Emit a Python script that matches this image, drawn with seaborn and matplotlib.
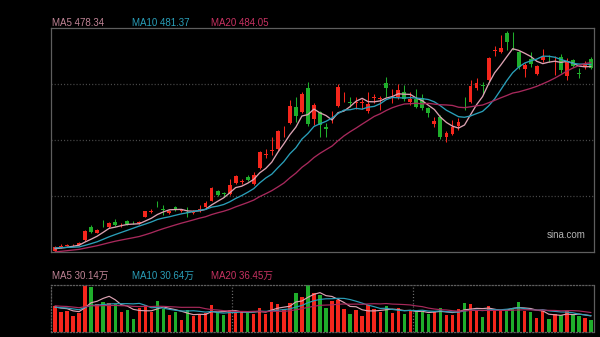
import numpy as np
import pandas as pd
import matplotlib
matplotlib.use("Agg")
import matplotlib.pyplot as plt
import seaborn as sns

# ---- daily candles (price), oldest first ----
opens = [201, 208, 209.5, 210, 211, 218, 237, 229, 241, 237,
         245.5, 240, 247, 244, 243, 253, 260.5, 271, 264, 258,
         267, 261.5, 259.5, 258, 263, 267, 277, 291.5, 288, 287,
         303, 305, 313, 302, 325.5, 346, 352, 354, 378, 394,
         418, 410.5, 446, 399, 410.5, 387, 402, 419, 432, 424.5,
         423.5, 423, 412, 431.5, 429.5, 454, 435, 432, 439.5, 424.5,
         429, 431, 415.5, 392, 403, 372, 376.5, 389.5, 421, 425.5,
         446.5, 450, 458, 501.5, 500, 529, 511, 500, 474.5, 489.5,
         467.5, 488.5, 489.5, 487.5, 492.5, 464.5, 488, 468.5, 478, 489.5]
closes = [207.5, 209, 210.5, 211, 213, 231.5, 230, 233, 240, 243,
          240.5, 241, 242, 243, 245.5, 261, 261.5, 270, 263, 261,
          263, 262.5, 258.5, 261, 264, 274, 295.5, 285.5, 287, 301,
          314, 306, 308, 315.5, 350.5, 347, 353, 381.5, 379, 419,
          404, 436.5, 392, 420.5, 390.5, 384, 403, 447, 433, 423.5,
          424.5, 424.5, 422, 432, 430.5, 445.5, 435.5, 443, 429, 429,
          418, 415.5, 409, 397, 372, 378, 388, 394.5, 420, 449,
          453, 449, 490.5, 502.5, 506, 515.5, 510, 478, 481, 481.8,
          479.5, 492.5, 489, 488, 473, 487.2, 479.5, 467, 482, 476]
highs = [209, 212, 212, 212, 215, 232.5, 240, 235, 248, 245,
         250, 244, 248, 246, 247, 262, 264, 277, 270, 263,
         269, 265, 267, 263, 270, 276, 297, 293, 290.5, 309,
         316, 309.5, 315, 320.5, 352, 354, 372, 383, 389, 428,
         432, 440.5, 455.5, 424, 412, 393, 412, 452, 440, 432,
         433, 429, 440, 437, 434, 463, 444, 452, 451, 440,
         444, 437, 418, 402, 405, 382, 398, 400.5, 433, 458,
         461, 455, 492, 509, 526, 531.5, 530, 502, 483, 500,
         480, 504.5, 495, 494, 497, 491, 490, 475.5, 486, 492]
lows = [200.5, 206, 208.5, 209, 210, 217, 229, 228, 237.5, 236,
        239, 237, 241, 242, 242, 252, 259, 267, 255.5, 257,
        262, 260, 252, 257, 260, 266, 276, 284, 283, 286,
        302, 302, 306, 300, 324, 340.5, 345.5, 352, 372, 392,
        395, 408, 389, 390, 372, 373, 394, 417, 425.5, 418,
        414, 414, 408, 423, 413, 433, 423, 429, 427, 420.5,
        415.5, 413, 403, 388, 370, 365.5, 375, 383, 413, 424,
        443, 437, 456.5, 494, 498, 503, 503, 474, 463, 478,
        466, 485.5, 485, 465.5, 468, 458, 478, 460.5, 475, 474]

# daily volume, in 万 shares
volumes = [48.3, 37.6, 39.5, 29.5, 35.7, 85.9, 83.4, 53.3, 56.4, 55.2,
           53.3, 37.6, 40.8, 25.1, 45.0, 50.2, 37.6, 58.3, 43.9, 31.4,
           37.6, 23.2, 40.8, 29.5, 34.5, 35.7, 50.2, 37.6, 32.6, 42.0,
           37.6, 37.6, 35.7, 34.5, 45.8, 33.2, 56.4, 53.3, 43.9, 54.5,
           73.4, 65.2, 87.8, 72.1, 70.0, 45.1, 57.7, 60.8, 42.6, 33.2,
           42.0, 29.5, 50.2, 42.6, 37.6, 48.3, 35.7, 45.8, 33.2, 39.5,
           37.6, 37.6, 34.5, 37.6, 45.8, 32.6, 31.4, 42.6, 55.2, 52.0,
           40.0, 29.0, 48.0, 44.0, 42.0, 42.0, 45.0, 56.0, 40.0, 36.6,
           26.5, 38.5, 25.0, 34.5, 31.2, 39.5, 32.0, 30.6, 26.7, 21.9]

# sessions before the visible window, needed for the moving averages
prior_closes = [190, 192, 191, 193, 195, 194, 196, 195, 197, 197,
                205, 207, 208, 209, 208, 204, 205, 203, 205]
prior_volumes = [55, 48, 52, 60, 45, 50, 58, 47, 52, 49,
                 50, 44, 46, 52, 40, 48, 45, 50, 43]

ma_windows = [5, 10, 20]

# ---- style ----
UP = "#f5261c"
DOWN = "#1fae2b"
MA_COLORS = {5: "#dca2b2", 10: "#2a9fb9", 20: "#a8295c"}
LABEL_COLORS = {5: "#c08496", 10: "#2a9fb9", 20: "#c83262"}
FRAME = "#5e5e5e"
GRID = "#4a4a4a"

sns.set_style("dark", {"axes.facecolor": "black", "figure.facecolor": "black"})
plt.rcParams["font.family"] = ["Liberation Sans", "Noto Sans CJK SC", "DejaVu Sans"]

W, H = 600, 337
fig = plt.figure(figsize=(W / 100, H / 100), dpi=100)
fig.patch.set_facecolor("black")

def px_axes(left, top, right, bottom):
    return fig.add_axes([left / W, 1 - bottom / H, (right - left) / W, (bottom - top) / H])

ax = px_axes(51, 28, 594, 252)
axv = px_axes(51, 285, 594, 332)

n = len(closes)
idx = np.arange(n)
o = np.array(opens); c = np.array(closes)
hi = np.array(highs); lo = np.array(lows)
colors = [UP if cc >= oo else DOWN for oo, cc in zip(o, c)]

xlim = (-0.66, n - 0.5)
price_lim = (200, 536)
vol_lim = (0, 88)

# ---- candles ----
ax.vlines(idx, lo, hi, colors=colors, linewidth=0.75, zorder=2)
body_low = np.minimum(o, c)
body_h = np.maximum(np.abs(c - o), 1.0)
ax.bar(idx, body_h, bottom=body_low, width=0.64, color=colors, linewidth=0, zorder=3)

# ---- moving averages of closing price ----
all_close = pd.Series(prior_closes + closes)
price_ma = {}
for w in ma_windows:
    m = all_close.rolling(w).mean().to_numpy()[len(prior_closes):]
    price_ma[w] = m
    sns.lineplot(x=idx, y=m, ax=ax, color=MA_COLORS[w], linewidth=0.95, zorder=4)

ax.set_xlim(*xlim)
ax.set_ylim(*price_lim)
for y in np.linspace(*price_lim, 5)[1:-1]:
    ax.axhline(y, color=GRID, linewidth=0.9, linestyle=(0, (0.9, 1.6)), zorder=1)
ax.set_xticks([]); ax.set_yticks([])
ax.grid(False)
for s in ax.spines.values():
    s.set_visible(True); s.set_color(FRAME); s.set_linewidth(0.9)

ax.text(0.985, 0.075, "sina.com", transform=ax.transAxes, ha="right", va="center",
        color="#b4b4b4", fontsize=7)

# ---- volume ----
axv.bar(idx, volumes, width=0.56, color=colors, linewidth=0, zorder=2)
all_vol = pd.Series(prior_volumes + volumes)
vol_ma = {}
for w in ma_windows:
    m = all_vol.rolling(w).mean().to_numpy()[len(prior_volumes):]
    vol_ma[w] = m
    sns.lineplot(x=idx, y=m, ax=axv, color=MA_COLORS[w], linewidth=0.85, zorder=3)

axv.set_xlim(*xlim)
axv.set_ylim(*vol_lim)
for xv in np.linspace(*xlim, 4)[1:-1]:
    axv.axvline(xv, color="#6a6a6a", linewidth=0.9, linestyle=(0, (0.9, 1.6)), zorder=1)
axv.set_xticks([]); axv.set_yticks([])
axv.grid(False)
for name, s in axv.spines.items():
    s.set_visible(True); s.set_color(FRAME); s.set_linewidth(0.9)
    if name != "right":
        s.set_linestyle((0, (0.9, 1.6)))

# ---- legends ----
label_x = [51.5, 131.5, 211]
for w, x in zip(ma_windows, label_x):
    fig.text(x / W, 1 - 26 / H, f"MA{w} {price_ma[w][-1]:.2f}", color=LABEL_COLORS[w],
             fontsize=7, va="baseline", ha="left")
    fig.text(x / W, 1 - 279 / H, f"MA{w} {vol_ma[w][-1]:.2f}万", color=LABEL_COLORS[w],
             fontsize=7, va="baseline", ha="left")

fig.savefig("out.png", dpi=100, facecolor="black")
